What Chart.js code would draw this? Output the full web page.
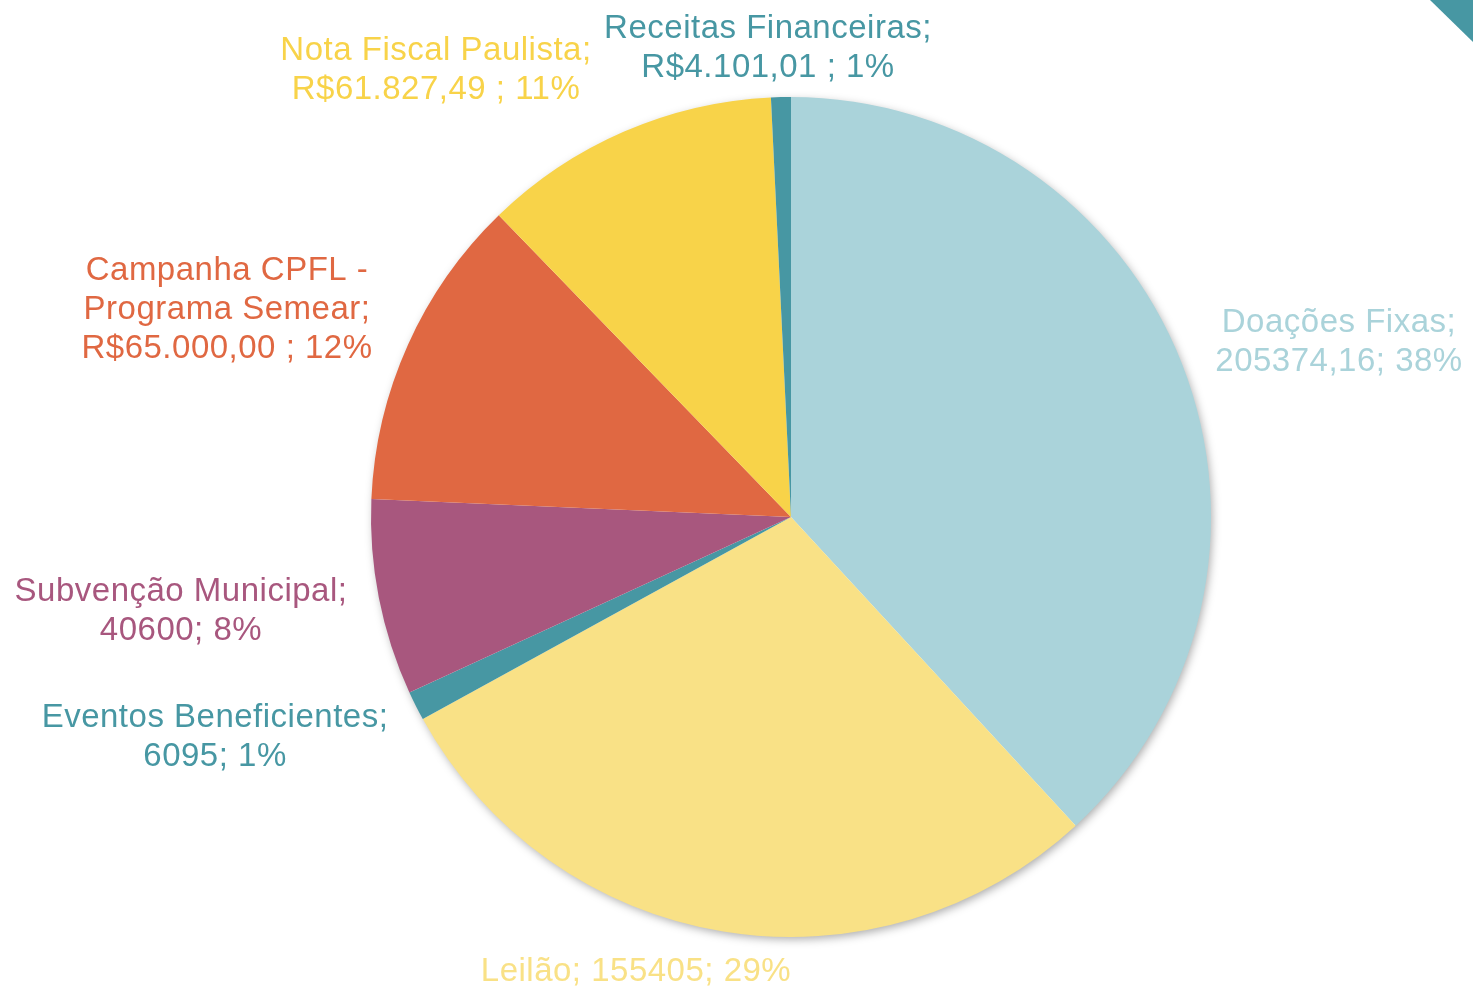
<!DOCTYPE html>
<html>
<head>
<meta charset="utf-8">
<script src="https://cdn.jsdelivr.net/npm/chart.js@4/dist/chart.umd.min.js"></script>
<style>
  html, body { margin: 0; padding: 0; background: #ffffff; }
  #wrap { width: 1473px; height: 991px; position: relative; }
</style>
</head>
<body>
<div id="wrap"><canvas id="c" width="1473" height="991"></canvas></div>
<script>
// ---- data ----
const categories = [
  "Doações Fixas",
  "Leilão",
  "Eventos Beneficientes",
  "Subvenção Municipal",
  "Campanha CPFL - Programa Semear",
  "Nota Fiscal Paulista",
  "Receitas Financeiras"
];
const values = [205374.16, 155405, 6095, 40600, 65000, 61827.49, 4101.01];
const valueLabels = ["205374,16", "155405", "6095", "40600", "R$65.000,00 ", "R$61.827,49 ", "R$4.101,01 "];
const percentLabels = ["38%", "29%", "1%", "8%", "12%", "11%", "1%"];
const labelLines = [
  ["Doações Fixas;", "205374,16; 38%"],
  ["Leilão; 155405; 29%"],
  ["Eventos Beneficientes;", "6095; 1%"],
  ["Subvenção Municipal;", "40600; 8%"],
  ["Campanha CPFL -", "Programa Semear;", "R$65.000,00 ; 12%"],
  ["Nota Fiscal Paulista;", "R$61.827,49 ; 11%"],
  ["Receitas Financeiras;", "R$4.101,01 ; 1%"]
];

// ---- styles ----
const colors = ["#AAD3DA", "#F9E186", "#4797A3", "#A8577E", "#E06842", "#F8D349", "#4797A3"];
const labelPos = [
  [1339, 323], [636, 972], [215, 718], [181, 592], [227, 271], [436, 51], [768, 29]
];
const lineGap = 39;

const shadowPlugin = {
  id: 'pieShadow',
  beforeDatasetsDraw(chart) {
    const arc = chart.getDatasetMeta(0).data[0];
    if (!arc) return;
    const ctx = chart.ctx;
    ctx.save();
    ctx.shadowColor = 'rgba(0,0,0,0.35)';
    ctx.shadowBlur = 10;
    ctx.shadowOffsetX = 2;
    ctx.shadowOffsetY = 3;
    ctx.fillStyle = '#ffffff';
    ctx.beginPath();
    ctx.arc(arc.x, arc.y, arc.outerRadius - 1, 0, Math.PI * 2);
    ctx.fill();
    ctx.restore();
  }
};

const decorPlugin = {
  id: 'decor',
  afterDraw(chart) {
    const ctx = chart.ctx;
    const w = chart.width;
    ctx.save();
    ctx.fillStyle = '#4797A3';
    ctx.beginPath();
    ctx.moveTo(w - 43, 0);
    ctx.lineTo(w, 0);
    ctx.lineTo(w, 42);
    ctx.closePath();
    ctx.fill();
    ctx.restore();
  }
};

const labelPlugin = {
  id: 'sliceLabels',
  afterDatasetsDraw(chart) {
    const ctx = chart.ctx;
    ctx.save();
    ctx.font = '33px "Liberation Sans", Arial, sans-serif';
    if ('letterSpacing' in ctx) ctx.letterSpacing = '0.5px';
    ctx.textAlign = 'center';
    ctx.textBaseline = 'middle';
    labelLines.forEach((lines, i) => {
      ctx.fillStyle = colors[i];
      const [x, y] = labelPos[i];
      lines.forEach((t, j) => ctx.fillText(t, x, y + j * lineGap));
    });
    ctx.restore();
  }
};

new Chart(document.getElementById('c'), {
  type: 'pie',
  data: {
    labels: categories,
    datasets: [{
      data: values,
      backgroundColor: colors,
      borderWidth: 0
    }]
  },
  options: {
    responsive: false,
    animation: false,
    layout: { padding: { top: 97, bottom: 54, left: 109, right: 0 } },
    plugins: {
      legend: { display: false },
      tooltip: { enabled: false }
    }
  },
  plugins: [shadowPlugin, labelPlugin, decorPlugin]
});
</script>
</body>
</html>
